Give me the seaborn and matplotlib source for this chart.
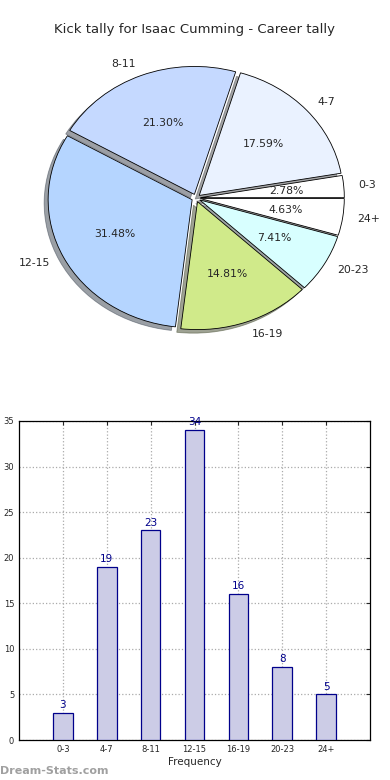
import matplotlib
matplotlib.use("Agg")
import matplotlib.pyplot as plt
import seaborn as sns
import pandas as pd

categories = ["0-3", "4-7", "8-11", "12-15", "16-19", "20-23", "24+"]
counts = [3, 19, 23, 34, 16, 8, 5]
pie_colors = ["#FFFFFF", "#EAF2FF", "#C5D9FF", "#B5D5FF", "#D0EA8A", "#D8FFFF", "#FFFFFF"]
title = "Kick tally for Isaac Cumming - Career tally"
yticks = [0, 5, 10, 15, 20, 25, 30, 35]

sns.set_style("white")
plt.rcParams['font.family'] = ['DejaVu Sans']

fig = plt.figure(figsize=(3.9, 7.8), dpi=100)

# Pie (slightly squashed vertically, as in the reference)
axp = fig.add_axes([16/390, 1 - 358/780, 360/390, 320/780])
wedges, texts, autotexts = axp.pie(
    counts, labels=categories, colors=pie_colors, explode=[0.03]*len(counts),
    autopct="%1.2f%%", shadow=True, startangle=0, counterclock=True,
    wedgeprops=dict(edgecolor="black", linewidth=0.6),
    textprops=dict(fontsize=7.8), labeldistance=1.1, pctdistance=0.6)
axp.set_aspect("auto")
axp.set_xlim(-1.25, 1.25)
axp.set_ylim(-1.25, 1.25)
axp.axis("off")
fig.text(0.5, 1 - 30/780, title, ha="center", va="center", fontsize=9.5)

# Bar
axb = fig.add_axes([19/390, 40/780, 351/390, 319/780])
df = pd.DataFrame({"cat": categories, "val": counts})
sns.barplot(data=df, x="cat", y="val", ax=axb, width=0.45, color="#CCCCE6",
            saturation=1, edgecolor="#00008B", linewidth=0.9, zorder=3)
axb.set_xlim(-1, 7)
axb.set_ylim(0, 35)
axb.set_yticks(yticks)
axb.tick_params(axis="both", labelsize=6, direction="in", length=3, top=True, right=True)
axb.grid(True, linestyle=":", color="#AAAAAA", linewidth=0.9, zorder=0)
axb.set_axisbelow(True)
for s in axb.spines.values():
    s.set_color("black")
    s.set_linewidth(0.9)
for i, v in enumerate(counts):
    axb.text(i, v + 0.3, str(v), ha="center", va="bottom", fontsize=7.5, color="#00008B")
axb.set_xlabel("Frequency", fontsize=7.5, labelpad=2)
axb.set_ylabel("Disposal Tally", fontsize=7.5)
axb.yaxis.set_label_coords(-0.075, 0.5)

fig.text(0.0, 1 - 771/780, "Dream-Stats.com", fontsize=8, color="#A0A0A0",
         fontweight="bold", ha="left", va="center")

fig.savefig("out.png", dpi=100)
